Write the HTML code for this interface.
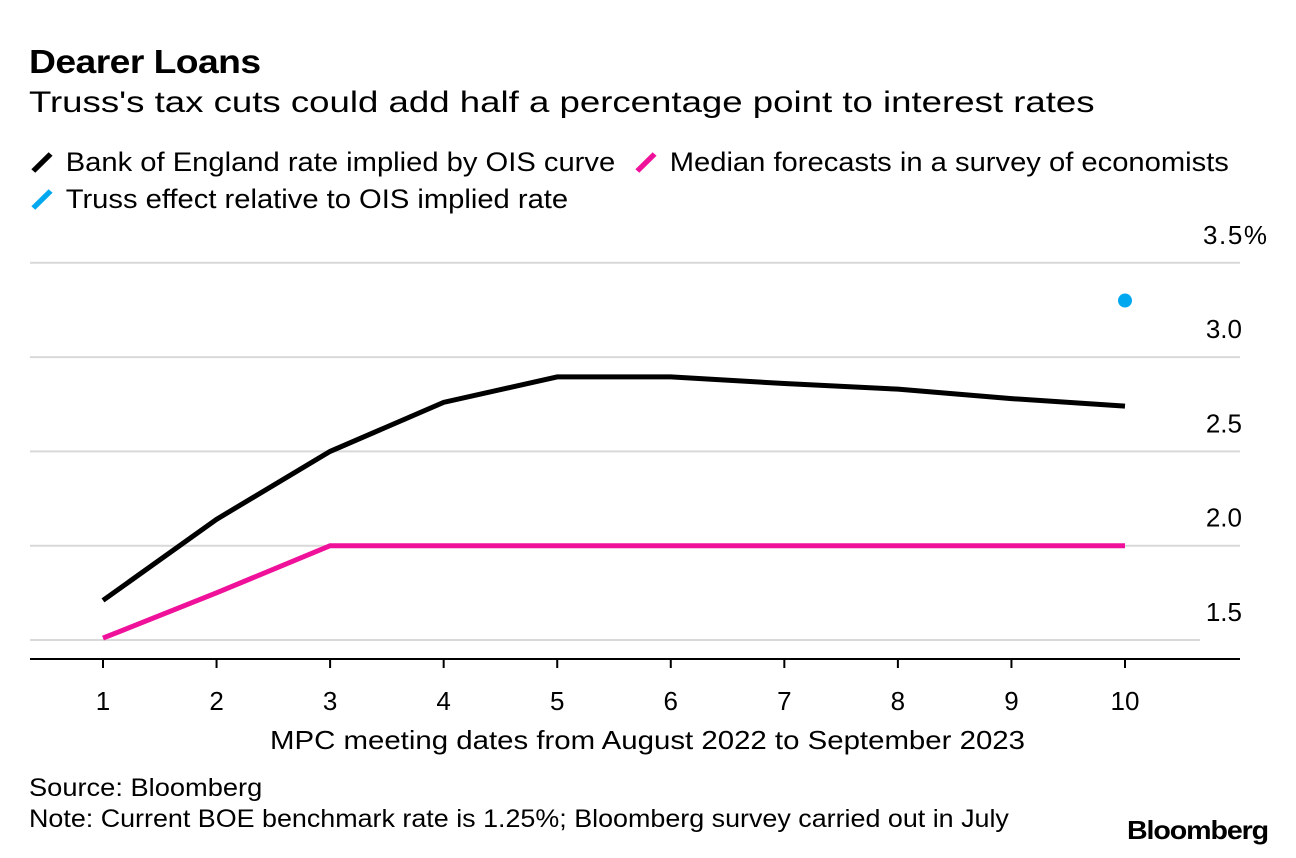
<!DOCTYPE html>
<html><head><meta charset="utf-8"><style>
body{margin:0;width:1296px;height:858px;background:#fff;font-family:"Liberation Sans",Arial,sans-serif;color:#000;overflow:hidden;position:relative}
.t{position:absolute;white-space:nowrap;transform-origin:0 0}
</style></head><body>
<div class="t" style="left:29px;top:43px;font-size:33px;font-weight:bold;letter-spacing:-0.5px;transform:scaleX(1.13)">Dearer Loans</div>
<div class="t" style="left:29px;top:86px;font-size:30px;transform:scaleX(1.22)">Truss's tax cuts could add half a percentage point to interest rates</div>
<div class="t" style="left:29px;top:147px;font-size:27px;transform:scaleX(1.08)"><svg width="26" height="26" style="vertical-align:-4px;margin-right:8px"><line x1="4" y1="22" x2="20" y2="5" stroke="#000" stroke-width="5"/></svg>Bank of England rate implied by OIS curve</div>
<div class="t" style="left:633px;top:147px;font-size:27px;transform:scaleX(1.08)"><svg width="26" height="26" style="vertical-align:-4px;margin-right:8px"><line x1="4" y1="22" x2="20" y2="5" stroke="#f0119b" stroke-width="5"/></svg>Median forecasts in a survey of economists</div>
<div class="t" style="left:29px;top:184px;font-size:27px;transform:scaleX(1.08)"><svg width="26" height="26" style="vertical-align:-4px;margin-right:8px"><line x1="4" y1="22" x2="20" y2="5" stroke="#00a8f0" stroke-width="5"/></svg>Truss effect relative to OIS implied rate</div>
<svg id="chart" width="1296" height="858" style="position:absolute;left:0;top:0"></svg>
<div class="t" style="left:29px;top:774px;font-size:25px;transform:scaleX(1.09)">Source: Bloomberg</div>
<div class="t" style="left:29px;top:805px;font-size:25px;transform:scaleX(1.075)">Note: Current BOE benchmark rate is 1.25%; Bloomberg survey carried out in July</div>
<div class="t" style="left:1127px;top:815px;font-size:26px;font-weight:bold;letter-spacing:-1px;transform:scaleX(1.1)">Bloomberg</div>
<script>
const categories=[1,2,3,4,5,6,7,8,9,10];
const oisValues=[1.71,2.14,2.5,2.76,2.895,2.895,2.86,2.83,2.78,2.74];
const surveyValues=[1.51,1.75,2.0,2.0,2.0,2.0,2.0,2.0,2.0,2.0];
const trussValues=[null,null,null,null,null,null,null,null,null,3.3];
const yTicks=[1.5,2.0,2.5,3.0,3.5];
const yTickLabels=["1.5","2.0","2.5","3.0","3.5%"];
const xAxisTitle="MPC meeting dates from August 2022 to September 2023";
const NS="http://www.w3.org/2000/svg";
const svg=document.getElementById('chart');
const x=c=>103+(c-1)*(1125-103)/9;
const y=v=>640-(v-1.5)*188.6;
function mk(tag,attrs){const e=document.createElementNS(NS,tag);for(const k in attrs)e.setAttribute(k,attrs[k]);svg.appendChild(e);return e;}
yTicks.forEach((v,i)=>{
 const g=mk('line',{x1:30,x2:i===0?1200:1240,y1:y(v),y2:y(v),stroke:'#d9d9d9','stroke-width':2});
 
 
 const t=mk('text',{x:1242,y:y(v)-19,'text-anchor':'end','font-size':26,'font-family':'Liberation Sans, Arial, sans-serif'});
 t.textContent=yTickLabels[i];
 if(i===yTicks.length-1){t.setAttribute('text-anchor','start');t.setAttribute('x',1203);t.setAttribute('textLength',64);}
 
 
});
const ax=mk('line',{x1:30,x2:1240,y1:659,y2:659,stroke:'#000','stroke-width':2});


categories.forEach(c=>{
 const tk=mk('line',{x1:x(c),x2:x(c),y1:659,y2:668,stroke:'#000','stroke-width':2});
 
 
 const t=mk('text',{x:x(c),y:710,'text-anchor':'middle','font-size':26,'font-family':'Liberation Sans, Arial, sans-serif'});
 t.textContent=c;
 
 
});
const xt=mk('text',{x:270,y:749,'font-size':26,textLength:755,lengthAdjust:'spacingAndGlyphs','font-family':'Liberation Sans, Arial, sans-serif'});
xt.textContent=xAxisTitle;


function line(vals,color,name){
 const p=mk('polyline',{points:vals.map((v,i)=>x(categories[i])+','+y(v)).join(' '),fill:'none',stroke:color,'stroke-width':5,'stroke-linejoin':'miter'});
 
 
}
line(surveyValues,'#f0119b','survey-line');
line(oisValues,'#000','ois-line');
trussValues.forEach((v,i)=>{if(v==null)return;
 const d=mk('circle',{cx:x(categories[i]),cy:y(v),r:7,fill:'#00a8f0'});
 
 
});
</script>
</body></html>
